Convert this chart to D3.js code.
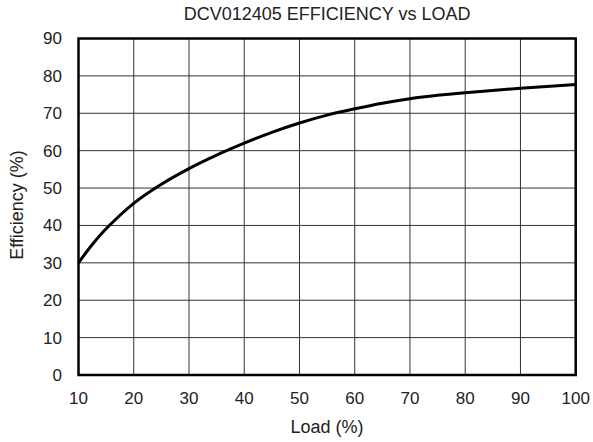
<!DOCTYPE html>
<html>
<head>
<meta charset="utf-8">
<script src="https://cdn.jsdelivr.net/npm/d3@7"></script>
<style>
  body { margin: 0; background: #fff; }
  text { font-family: "Liberation Sans", Arial, sans-serif; fill: #222; }
</style>
</head>
<body>
<div id="vis"></div>
<script>
// efficiency curve
var loads = [10, 12.5, 15, 20, 25, 30, 35, 40, 45, 50, 55, 60, 65, 70, 75, 80, 90, 100];
var effs = [30, 34.9, 39.1, 45.9, 51.0, 55.2, 58.8, 62.0, 64.9, 67.4, 69.5, 71.2, 72.7, 73.9, 74.8, 75.5, 76.7, 77.7];
var xTicks = [10, 20, 30, 40, 50, 60, 70, 80, 90, 100];
var yTicks = [0, 10, 20, 30, 40, 50, 60, 70, 80, 90];

var width = 593;
var height = 442;
var margin = { top: 38.5, right: 17.3, bottom: 67, left: 78.5 };

var svg = d3.select('#vis').append('svg')
  .attr('width', width)
  .attr('height', height);

var x = d3.scaleLinear().domain([10, 100]).range([margin.left, width - margin.right]);
var y = d3.scaleLinear().domain([0, 90]).range([height - margin.bottom, margin.top]);

// grid
svg.append('g')
  .selectAll('line')
  .data(xTicks.slice(1, -1))
  .enter().append('line')
  .attr('x1', function (d) { return x(d); })
  .attr('x2', function (d) { return x(d); })
  .attr('y1', y(0))
  .attr('y2', y(90))
  .attr('stroke', '#333')
  .attr('stroke-width', 1);

svg.append('g')
  .selectAll('line')
  .data(yTicks.slice(1, -1))
  .enter().append('line')
  .attr('x1', x(10))
  .attr('x2', x(100))
  .attr('y1', function (d) { return y(d); })
  .attr('y2', function (d) { return y(d); })
  .attr('stroke', '#333')
  .attr('stroke-width', 1);

// curve
var line = d3.line()
  .x(function (d, i) { return x(loads[i]); })
  .y(function (d) { return y(d); })
  .curve(d3.curveCatmullRom.alpha(0.5));

svg.append('path')
  .datum(effs)
  .attr('d', line)
  .attr('fill', 'none')
  .attr('stroke', '#000')
  .attr('stroke-width', 3);

// frame
svg.append('rect')
  .attr('x', x(10))
  .attr('y', y(90))
  .attr('width', x(100) - x(10))
  .attr('height', y(0) - y(90))
  .attr('fill', 'none')
  .attr('stroke', '#000')
  .attr('stroke-width', 2.5);

// tick labels
svg.append('g')
  .selectAll('text')
  .data(xTicks)
  .enter().append('text')
  .attr('x', function (d) { return x(d); })
  .attr('y', 404)
  .attr('text-anchor', 'middle')
  .style('font-size', '17px')
  .text(function (d) { return d; });

svg.append('g')
  .selectAll('text')
  .data(yTicks)
  .enter().append('text')
  .attr('x', 62)
  .attr('y', function (d) { return y(d); })
  .attr('dy', '0.35em')
  .attr('text-anchor', 'end')
  .style('font-size', '17px')
  .text(function (d) { return d; });

// titles
svg.append('text')
  .attr('x', (x(10) + x(100)) / 2)
  .attr('y', 20)
  .attr('text-anchor', 'middle')
  .style('font-size', '18px')
  .text('DCV012405 EFFICIENCY vs LOAD');

svg.append('text')
  .attr('x', (x(10) + x(100)) / 2)
  .attr('y', 433)
  .attr('text-anchor', 'middle')
  .style('font-size', '18px')
  .text('Load (%)');

svg.append('text')
  .attr('transform', 'translate(23,205) rotate(-90)')
  .attr('text-anchor', 'middle')
  .style('font-size', '18px')
  .text('Efficiency (%)');
</script>
</body>
</html>
